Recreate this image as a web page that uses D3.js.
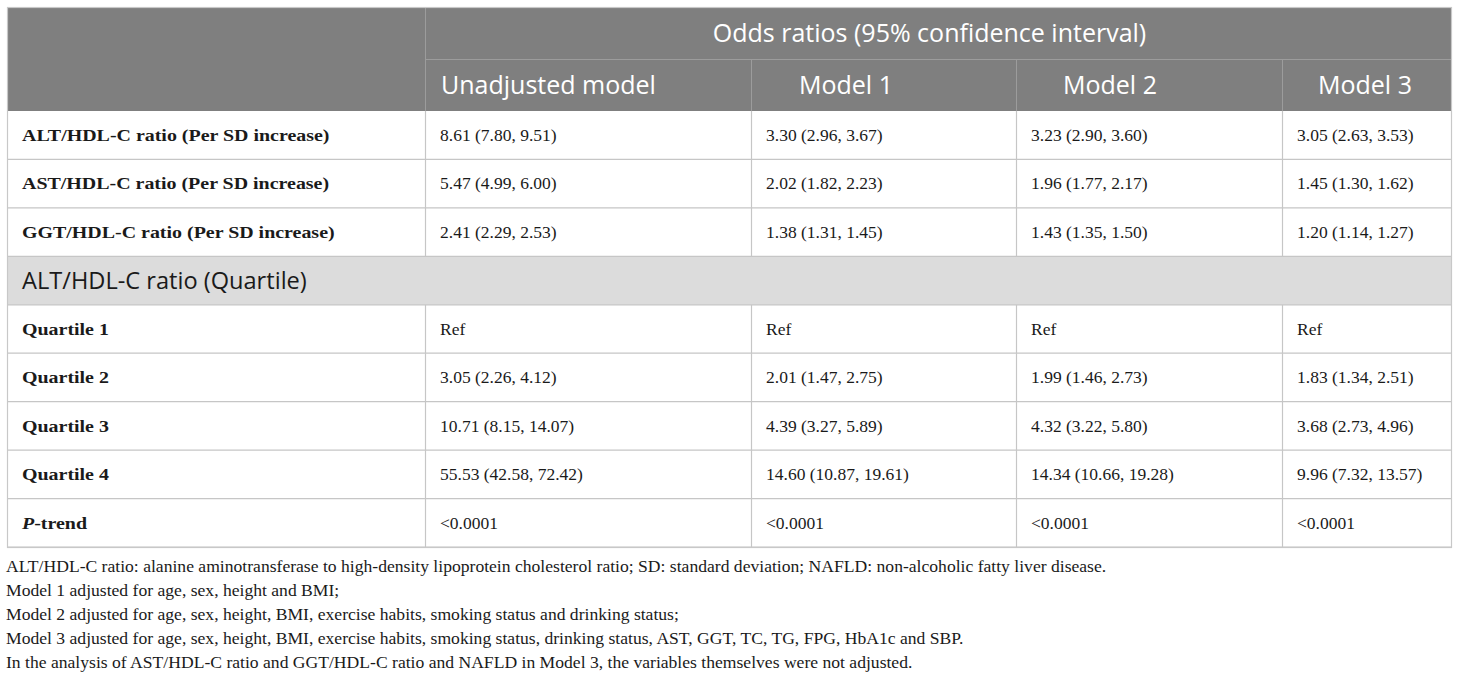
<!DOCTYPE html>
<html>
<head>
<meta charset="utf-8">
<script src="https://cdn.jsdelivr.net/npm/d3@7"></script>
<style>
  body { margin: 0; background: #fff; }
  .serif { font-family: "Liberation Serif", "Times New Roman", serif; }
  .sans { font-family: "Open Sans", "Noto Sans", sans-serif; }
</style>
</head>
<body>
<svg id="chart"></svg>
<script>
// table content
const groupTitle = "Odds ratios (95% confidence interval)";
const models = ["Unadjusted model", "Model 1", "Model 2", "Model 3"];
const perSdLabels = [
  "ALT/HDL-C ratio (Per SD increase)",
  "AST/HDL-C ratio (Per SD increase)",
  "GGT/HDL-C ratio (Per SD increase)"
];
const perSdValues = [
  ["8.61 (7.80, 9.51)", "3.30 (2.96, 3.67)", "3.23 (2.90, 3.60)", "3.05 (2.63, 3.53)"],
  ["5.47 (4.99, 6.00)", "2.02 (1.82, 2.23)", "1.96 (1.77, 2.17)", "1.45 (1.30, 1.62)"],
  ["2.41 (2.29, 2.53)", "1.38 (1.31, 1.45)", "1.43 (1.35, 1.50)", "1.20 (1.14, 1.27)"]
];
const sectionLabel = "ALT/HDL-C ratio (Quartile)";
const quartileLabels = ["Quartile 1", "Quartile 2", "Quartile 3", "Quartile 4", "P-trend"];
const quartileValues = [
  ["Ref", "Ref", "Ref", "Ref"],
  ["3.05 (2.26, 4.12)", "2.01 (1.47, 2.75)", "1.99 (1.46, 2.73)", "1.83 (1.34, 2.51)"],
  ["10.71 (8.15, 14.07)", "4.39 (3.27, 5.89)", "4.32 (3.22, 5.80)", "3.68 (2.73, 4.96)"],
  ["55.53 (42.58, 72.42)", "14.60 (10.87, 19.61)", "14.34 (10.66, 19.28)", "9.96 (7.32, 13.57)"],
  ["<0.0001", "<0.0001", "<0.0001", "<0.0001"]
];
const footnotes = [
  "ALT/HDL-C ratio: alanine aminotransferase to high-density lipoprotein cholesterol ratio; SD: standard deviation; NAFLD: non-alcoholic fatty liver disease.",
  "Model 1 adjusted for age, sex, height and BMI;",
  "Model 2 adjusted for age, sex, height, BMI, exercise habits, smoking status and drinking status;",
  "Model 3 adjusted for age, sex, height, BMI, exercise habits, smoking status, drinking status, AST, GGT, TC, TG, FPG, HbA1c and SBP.",
  "In the analysis of AST/HDL-C ratio and GGT/HDL-C ratio and NAFLD in Model 3, the variables themselves were not adjusted."
];

const width = 1460, height = 684;
const tLeft = 7, tRight = 1452, tTop = 7;
const colEdges = [tLeft, 425, 751, 1016, 1282, tRight];
const headerPad = [16, 48, 47, 36]; // header labels are not left-aligned with the body
const headH = 52;
const bodyTop = tTop + headH * 2, bodyBottom = 547;
const pad = 15;
const boldStretch = 1.14; // the original bold face is wider than Liberation Serif Bold

const svg = d3.select("#chart").attr("width", width).attr("height", height);

// body rows: 3 per-SD rows, the section row, 5 quartile rows
const rows = [];
perSdLabels.forEach((l, i) => rows.push({ id: "sd" + i, label: l, values: perSdValues[i], type: "data" }));
rows.push({ id: "sec", label: sectionLabel, type: "section" });
quartileLabels.forEach((l, i) => rows.push({ id: "q" + i, label: l, values: quartileValues[i], type: "data" }));

const y = d3.scaleBand().domain(rows.map(d => d.id)).range([bodyTop, bodyBottom]);

// header background
svg.append("rect")
  .attr("x", tLeft).attr("y", tTop)
  .attr("width", tRight - tLeft).attr("height", headH * 2)
  .attr("fill", "#7f7f7f");

// section row background
svg.append("rect")
  .attr("x", tLeft).attr("y", y("sec"))
  .attr("width", tRight - tLeft).attr("height", y.bandwidth())
  .attr("fill", "#dcdcdc");

// header lines
const hl = svg.append("g").attr("stroke", "#9c9c9c").attr("stroke-width", 1);
hl.append("line")
  .attr("x1", colEdges[1]).attr("x2", tRight)
  .attr("y1", tTop + headH + 0.5).attr("y2", tTop + headH + 0.5);
hl.append("line")
  .attr("x1", colEdges[1] + 0.5).attr("x2", colEdges[1] + 0.5)
  .attr("y1", tTop).attr("y2", bodyTop);
hl.selectAll(".hv").data(colEdges.slice(2, 5)).enter().append("line")
  .attr("x1", d => d + 0.5).attr("x2", d => d + 0.5)
  .attr("y1", tTop + headH).attr("y2", bodyTop);

// body grid
const grid = svg.append("g").attr("stroke", "#c6c6c6").attr("stroke-width", 1.2).attr("fill", "none");
grid.selectAll(".hz").data(rows).enter().append("line")
  .attr("x1", tLeft).attr("x2", tRight)
  .attr("y1", d => y(d.id) + y.bandwidth()).attr("y2", d => y(d.id) + y.bandwidth());
rows.filter(d => d.type === "data").forEach(d => {
  grid.selectAll(null).data(colEdges.slice(1, 5)).enter().append("line")
    .attr("x1", c => c + 0.5).attr("x2", c => c + 0.5)
    .attr("y1", y(d.id)).attr("y2", y(d.id) + y.bandwidth());
});
grid.append("rect")
  .attr("x", tLeft + 0.5).attr("y", tTop + 0.5)
  .attr("width", tRight - tLeft - 1).attr("height", bodyBottom - tTop)
  .attr("stroke", "#c8c8c8");

// header text
svg.append("text")
  .attr("class", "sans")
  .attr("x", 929.5).attr("y", tTop + headH / 2 + 9)
  .attr("text-anchor", "middle")
  .attr("font-size", 25).attr("fill", "#fff")
  .text(groupTitle);
svg.selectAll(".mh").data(models).enter().append("text")
  .attr("class", "sans")
  .attr("x", (d, i) => colEdges[i + 1] + headerPad[i])
  .attr("y", tTop + headH * 1.5 + 9)
  .attr("font-size", 25).attr("fill", "#fff")
  .text(d => d);

// section label
svg.append("text")
  .attr("class", "sans")
  .attr("x", tLeft + pad).attr("y", y("sec") + y.bandwidth() / 2 + 8)
  .attr("font-size", 23.6).attr("fill", "#1a1a1a")
  .text(sectionLabel);

// row labels (bold serif)
const labels = svg.selectAll(".rl").data(rows.filter(d => d.type === "data")).enter().append("text")
  .attr("class", "serif")
  .attr("transform", d => `translate(${tLeft + pad},${y(d.id) + 30}) scale(${boldStretch},1)`)
  .attr("font-size", 17.5)
  .attr("font-weight", 700)
  .attr("fill", "#1a1a1a");
labels.each(function (d) {
  const t = d3.select(this);
  if (d.label === "P-trend") {
    t.append("tspan").attr("font-style", "italic").text("P");
    t.append("tspan").text("-trend");
  } else {
    t.text(d.label);
  }
});

// cell values
rows.filter(d => d.type === "data").forEach(d => {
  svg.selectAll(null).data(d.values).enter().append("text")
    .attr("class", "serif")
    .attr("x", (v, i) => colEdges[i + 1] + pad)
    .attr("y", y(d.id) + 30)
    .attr("font-size", 17.5).attr("fill", "#1a1a1a")
    .text(v => v);
});

// footnotes
svg.selectAll(".fn").data(footnotes).enter().append("text")
  .attr("class", "serif")
  .attr("x", 6)
  .attr("y", (d, i) => 571.5 + i * 24.2)
  .attr("font-size", 17.6).attr("fill", "#1a1a1a")
  .text(d => d);
</script>
</body>
</html>
